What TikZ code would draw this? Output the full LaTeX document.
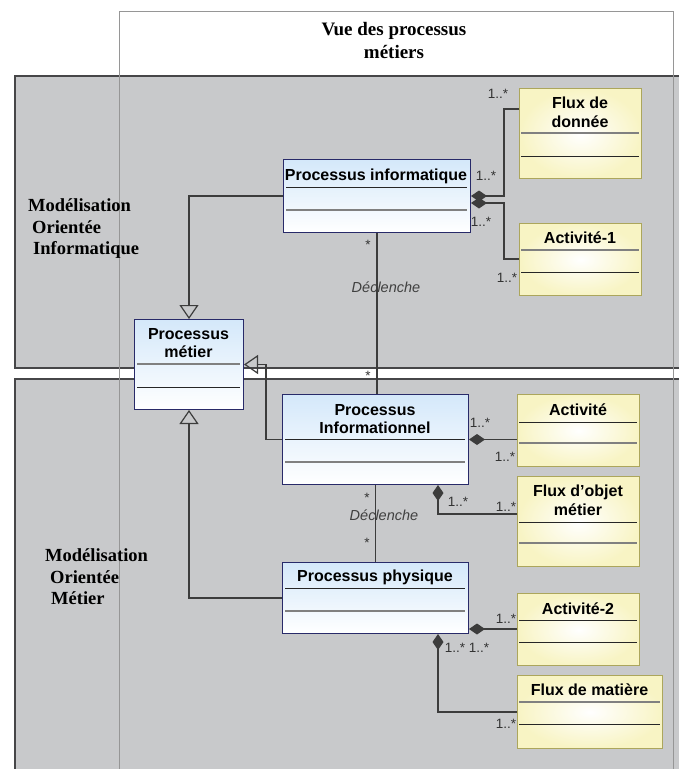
\documentclass[tikz,border=0pt]{standalone}
\usepackage{fontspec}
\setmainfont{Liberation Serif}
\setsansfont{Liberation Sans}
\usetikzlibrary{arrows.meta}

\definecolor{panelgray}{RGB}{200,201,203}
\definecolor{paneledge}{RGB}{70,70,72}
\definecolor{framegray}{RGB}{150,150,150}
\definecolor{boxblue}{RGB}{212,232,250}
\definecolor{blueedge}{RGB}{40,42,105}
\definecolor{boxyellow}{RGB}{248,244,196}
\definecolor{yellowedge}{RGB}{172,166,92}
\definecolor{linkgray}{RGB}{60,60,60}

\newcommand\clsfont{\sffamily\bfseries\fontsize{16}{18.5}\selectfont}
\newcommand\multfont{\sffamily\fontsize{13.5}{15}\selectfont}

\begin{document}
\begin{tikzpicture}[x=1pt,y=-1pt,
    panel/.style={draw=paneledge, fill=panelgray, line width=1.2pt},
    frameline/.style={draw=framegray, line width=0.8pt},
    bluebox/.style={draw=blueedge, line width=1pt, top color=boxblue, bottom color=white,
      inner sep=0pt, anchor=north west},
    yellowbox/.style={draw=yellowedge, line width=1.2pt, shading=radial, inner color=white,
      outer color=boxyellow, inner sep=0pt, anchor=north west},
    ctitle/.style={font=\clsfont, align=center, inner sep=0pt},
    sepdark/.style={draw=black!85, line width=1pt},
    sepgray/.style={draw=black!50, line width=1.2pt},
    link/.style={draw=linkgray, line width=1.2pt},
    gen/.style={link, -{Triangle[open, length=14pt, width=19pt]}},
    compo/.style={link, -{Diamond[length=16pt, width=11pt]}},
    mult/.style={font=\multfont, text=black!80, inner sep=0pt},
    trig/.style={font=\sffamily\itshape\fontsize{14.5}{16}\selectfont, text=black!75, inner sep=0pt},
    side/.style={font=\bfseries\fontsize{18.5}{21.5}\selectfont, align=left, anchor=west, inner sep=0pt}
  ]
    \useasboundingbox[fill=white] (0,0) rectangle (679,769);

    % Panels
    \draw[panel] (15,76) rectangle (690,368);
    \draw[panel] (15,379) rectangle (690,780);

    % Header frame
    \draw[frameline] (119,769) -- (119,11) -- (673,11) -- (673,769);
    \node[font=\bfseries\fontsize{19}{23}\selectfont, align=center] (head) at (394,40)
      {Vue des processus\\métiers};

    \node[side] (lab-info) at (28,229)
      {Modélisation\\\hspace*{4pt}Orientée\\\hspace*{5pt}Informatique};
    \node[side] (lab-metier) at (45,577)
      {Modélisation\\\hspace*{5pt}Orientée\\\hspace*{6pt}Métier};

    % Process classes
    \node[bluebox, minimum width=187pt, minimum height=73pt] (pinfo) at (283,159) {};
    \node[ctitle] (t-pinfo) at (376,176) {Processus informatique};
    \draw[sepdark] (286,187) -- (467,187);
    \draw[sepgray] (286,210) -- (467,210);

    \node[bluebox, minimum width=109pt, minimum height=90pt] (pmetier) at (134,319) {};
    \node[ctitle] (t-pmetier) at (188.5,343) {Processus\\métier};
    \draw[sepgray] (137,364) -- (240,364);
    \draw[sepdark] (137,387) -- (240,387);

    \node[bluebox, minimum width=186pt, minimum height=90pt] (pinfonel) at (282,394) {};
    \node[ctitle] (t-pinfonel) at (375,419) {Processus\\Informationnel};
    \draw[sepdark] (285,439) -- (465,439);
    \draw[sepgray] (285,462) -- (465,462);

    \node[bluebox, minimum width=186pt, minimum height=71pt] (pphys) at (282,562) {};
    \node[ctitle] (t-pphys) at (375,577) {Processus physique};
    \draw[sepdark] (285,588) -- (465,588);
    \draw[sepgray] (285,611) -- (465,611);

    % Part classes
    \node[yellowbox, minimum width=122pt, minimum height=90pt] (fluxd) at (519,88) {};
    \node[ctitle] (t-fluxd) at (580,112.5) {Flux de\\donnée};
    \draw[sepgray] (521,133) -- (639,133);
    \draw[sepdark] (521,156) -- (639,156);

    \node[yellowbox, minimum width=122pt, minimum height=72pt] (act1) at (519,223) {};
    \node[ctitle] (t-act1) at (580,238) {Activité-1};
    \draw[sepgray] (521,250) -- (639,250);
    \draw[sepdark] (521,272) -- (639,272);

    \node[yellowbox, minimum width=122pt, minimum height=72pt] (act) at (517,394) {};
    \node[ctitle] (t-act) at (578,410) {Activité};
    \draw[sepdark] (519,422) -- (637,422);
    \draw[sepgray] (519,443) -- (637,443);

    \node[yellowbox, minimum width=122pt, minimum height=90pt] (fluxo) at (517,476) {};
    \node[ctitle] (t-fluxo) at (578,500.5) {Flux d'objet\\métier};
    \draw[sepdark] (519,522) -- (637,522);
    \draw[sepgray] (519,543) -- (637,543);

    \node[yellowbox, minimum width=122pt, minimum height=72pt] (act2) at (517,593) {};
    \node[ctitle] (t-act2) at (578,609) {Activité-2};
    \draw[sepdark] (519,620) -- (637,620);
    \draw[sepdark] (519,642) -- (637,642);

    \node[yellowbox, minimum width=145pt, minimum height=73pt] (fluxm) at (517,675) {};
    \node[ctitle] (t-fluxm) at (589.5,690) {Flux de matière};
    \draw[sepgray] (519,702) -- (660,702);
    \draw[sepdark] (519,724) -- (660,724);

    % Generalisations
    \draw[gen] (pinfo.west) -| (pmetier.north);
    \draw[gen] (pinfonel.west) -- ++(-16,0) |- (pmetier.east);
    \draw[gen] (pphys.west) -| (pmetier.south);

    % Declenche
    \draw[link] (pinfo.south) -- (pinfo.south |- pinfonel.north);
    \draw[link] (pinfonel.south) -- (pphys.north);

    % Compositions
    \draw[compo] (fluxd.west |- 0,109) -| (504,196) -- (pinfo.east |- 0,196);
    \draw[compo] (act1.west |- 0,259) -| (504,203) -- (pinfo.east |- 0,203);
    \draw[compo] (act.west |- pinfonel.east) -- (pinfonel.east);
    \draw[compo] (fluxo.west |- 0,514) -| (pinfonel.south -| 438,0);
    \draw[compo] (act2.west |- 0,629) -- (pphys.east |- 0,629);
    \draw[compo] (fluxm.west |- 0,712) -| (pphys.south -| 438,0);

    % Multiplicities
    \node[mult] (m1) at (498,94) {1..*};
    \node[mult] (m2) at (486,176) {1..*};
    \node[mult] (m3) at (481,222) {1..*};
    \node[mult] (m4) at (507,278) {1..*};
    \node[mult] (m5) at (368,245) {*};
    \node[trig] (d1) at (386,287) {Déclenche};
    \node[mult] (m6) at (368,376) {*};
    \node[mult] (m7) at (480,423) {1..*};
    \node[mult] (m8) at (505,457) {1..*};
    \node[mult] (m9) at (458,502) {1..*};
    \node[mult] (m10) at (506,507) {1..*};
    \node[mult] (m11) at (367,498) {*};
    \node[trig] (d2) at (384,515) {Déclenche};
    \node[mult] (m12) at (367,543) {*};
    \node[mult] (m13) at (506,619) {1..*};
    \node[mult] (m14) at (455,648) {1..*};
    \node[mult] (m15) at (479,648) {1..*};
    \node[mult] (m16) at (506,724) {1..*};
\end{tikzpicture}
\end{document}
